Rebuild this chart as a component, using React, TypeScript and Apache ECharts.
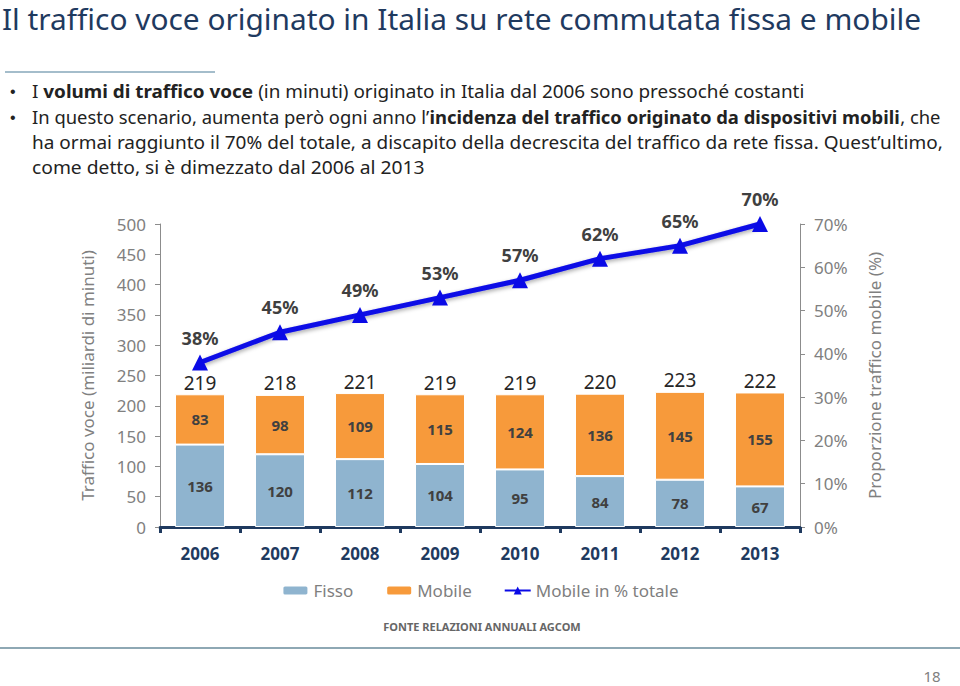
import React, { useEffect, useRef } from "react";
import * as echarts from "echarts";

const years = ["2006", "2007", "2008", "2009", "2010", "2011", "2012", "2013"];
const fisso = [136, 120, 112, 104, 95, 84, 78, 67];
const mobile = [83, 98, 109, 115, 124, 136, 145, 155];
const totals = [219, 218, 221, 219, 219, 220, 223, 222];
const mobileShare = [0.38, 0.45, 0.49, 0.53, 0.57, 0.62, 0.65, 0.7];

const FONT = "'Noto Sans', sans-serif";
const NAVY = "#1f3a5f";

export default function App() {
  const ref = useRef<HTMLDivElement>(null);
  useEffect(() => {
    document.body.style.margin = "0";
    const chart = echarts.init(ref.current!, null, { renderer: "svg" });
    const bulletRich = {
      n: { fontFamily: FONT, fontSize: 18, color: "#222222" },
      b: { fontFamily: FONT, fontSize: 18, color: "#222222", fontWeight: "bold" as const },
    };
    const bulletText = (x: number, y: number, text: string, sx: number) => ({
      type: "text",
      x,
      y,
      scaleX: sx,
      style: { text, rich: bulletRich, verticalAlign: "middle", fontFamily: FONT, fontSize: 18, fill: "#222222" },
    });
    const option: any = {
      animation: false,
      textStyle: { fontFamily: FONT },
      grid: { left: 160, right: 160, top: 224, bottom: 159 },
      legend: {
        data: ["Fisso", "Mobile", "Mobile in % totale"],
        top: 577,
        left: "center",
        itemWidth: 26,
        itemHeight: 10,
        itemGap: 32,
        textStyle: { color: "#7f7f7f", fontSize: 17, fontFamily: FONT },
      },
      xAxis: {
        type: "category",
        data: years,
        axisLine: { lineStyle: { color: NAVY, width: 3 } },
        axisTick: { show: true, length: 6, lineStyle: { color: NAVY, width: 3 } },
        axisLabel: { color: NAVY, fontWeight: "bold", fontSize: 17, margin: 18 },
      },
      yAxis: [
        {
          type: "value",
          min: 0,
          max: 500,
          interval: 50,
          name: "Traffico voce (miliardi di minuti)",
          nameLocation: "middle",
          nameRotate: 90,
          nameGap: 64,
          nameTextStyle: { color: "#808080", fontSize: 17 },
          splitLine: { show: false },
          axisLine: { show: true, lineStyle: { color: "#8c8c8c" } },
          axisTick: { show: true, length: 5, lineStyle: { color: "#8c8c8c" } },
          axisLabel: { color: "#808080", fontSize: 17, margin: 14 },
        },
        {
          type: "value",
          min: 0,
          max: 0.7,
          interval: 0.1,
          position: "right",
          name: "Proporzione traffico mobile (%)",
          nameLocation: "middle",
          nameRotate: 90,
          nameGap: 66,
          nameTextStyle: { color: "#808080", fontSize: 17 },
          splitLine: { show: false },
          axisLine: { show: true, lineStyle: { color: "#8c8c8c" } },
          axisTick: { show: true, length: 5, lineStyle: { color: "#8c8c8c" } },
          axisLabel: {
            color: "#808080",
            fontSize: 17,
            margin: 14,
            formatter: (v: number) => Math.round(v * 100) + "%",
          },
        },
      ],
      series: [
        {
          name: "Fisso",
          type: "bar",
          stack: "t",
          barWidth: 50,
          data: fisso,
          itemStyle: { color: "#8fb4cf", borderColor: "#ffffff", borderWidth: 1 },
          label: { show: true, position: "inside", color: "#404040", fontWeight: "bold", fontSize: 15 },
        },
        {
          name: "Mobile",
          type: "bar",
          stack: "t",
          barWidth: 50,
          data: mobile,
          itemStyle: { color: "#f79a3b", borderColor: "#ffffff", borderWidth: 1 },
          label: { show: true, position: "inside", color: "#404040", fontWeight: "bold", fontSize: 15 },
        },
        {
          name: "Totale",
          type: "line",
          data: totals,
          symbol: "circle",
          symbolSize: 2,
          showSymbol: true,
          lineStyle: { width: 0, opacity: 0 },
          itemStyle: { color: "rgba(0,0,0,0)", borderWidth: 0 },
          silent: true,
          z: 5,
          label: { show: true, position: "top", distance: 1, color: "#262626", fontSize: 19 },
        },
        {
          name: "Mobile in % totale",
          type: "line",
          yAxisIndex: 1,
          data: mobileShare,
          symbol: "triangle",
          symbolSize: 16,
          color: "#0a0ae6",
          lineStyle: {
            color: "#0a0ae6",
            width: 5,
            shadowColor: "rgba(0,0,0,0.35)",
            shadowBlur: 4,
            shadowOffsetY: 2,
          },
          itemStyle: { color: "#0a0ae6" },
          label: {
            show: true,
            position: "top",
            distance: 8,
            color: "#404040",
            fontWeight: "bold",
            fontSize: 18,
            formatter: (p: any) => Math.round(p.value * 100) + "%",
          },
        },
      ],
      graphic: [
        {
          type: "text",
          x: 2,
          y: 19,
          scaleX: 1.03,
          style: {
            text: "Il traffico voce originato in Italia su rete commutata fissa e mobile",
            fontFamily: FONT,
            fontSize: 29,
            fill: NAVY,
            verticalAlign: "middle",
          },
        },
        { type: "line", shape: { x1: 5, y1: 72, x2: 215, y2: 72 }, style: { stroke: "#86a7ba", lineWidth: 1.5 } },
        { type: "text", x: 10, y: 91, style: { text: "•", fontSize: 16, fill: "#222", verticalAlign: "middle" } },
        { type: "text", x: 10, y: 117, style: { text: "•", fontSize: 16, fill: "#222", verticalAlign: "middle" } },
        bulletText(32, 91, "{n|I }{b|volumi di traffico voce}{n| (in minuti) originato in Italia dal 2006 sono pressoché costanti}", 1.05),
        bulletText(32, 117, "{n|In questo scenario, aumenta però ogni anno l’}{b|incidenza del traffico originato da dispositivi mobili}{n|, che}", 1.023),
        bulletText(32, 142, "{n|ha ormai raggiunto il 70% del totale, a discapito della decrescita del traffico da rete fissa. Quest’ultimo,}", 1.055),
        bulletText(32, 167, "{n|come detto, si è dimezzato dal 2006 al 2013}", 1.07),
        {
          type: "text",
          x: 482,
          y: 626,
          style: {
            text: "FONTE RELAZIONI ANNUALI AGCOM",
            fontFamily: FONT,
            fontSize: 11,
            fontWeight: "bold",
            fill: "#666666",
            align: "center",
            verticalAlign: "middle",
          },
        },
        { type: "line", shape: { x1: 0, y1: 648, x2: 960, y2: 648 }, style: { stroke: "#8ea8b4", lineWidth: 2 } },
        {
          type: "text",
          x: 932,
          y: 676,
          style: { text: "18", fontFamily: FONT, fontSize: 15, fill: "#7f7f7f", align: "center", verticalAlign: "middle" },
        },
      ],
    };
    chart.setOption(option);
    return () => chart.dispose();
  }, []);
  return <div ref={ref} style={{ position: "absolute", left: 0, top: 0, width: 960, height: 686, background: "#fff" }} />;
}
